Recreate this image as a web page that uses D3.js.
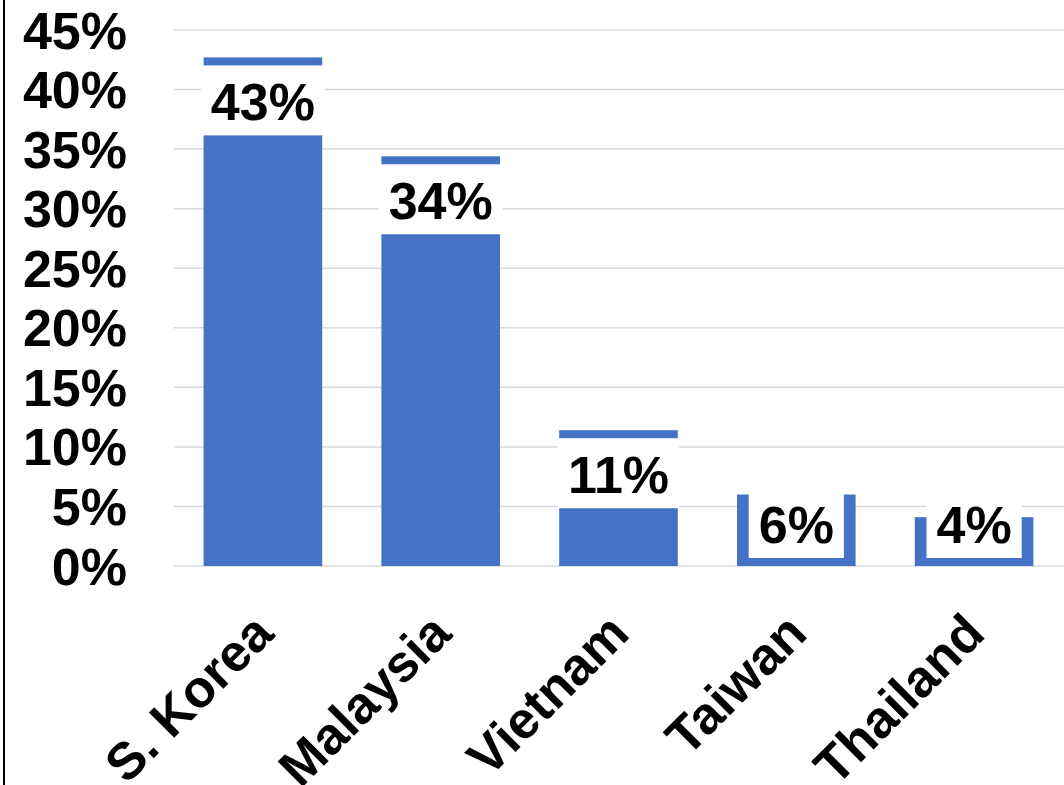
<!DOCTYPE html>
<html>
<head>
<meta charset="utf-8">
<script src="https://cdn.jsdelivr.net/npm/d3@7"></script>
<style>
  body { margin: 0; background: #fff; }
  text { font-family: "Liberation Sans", Arial, sans-serif; font-weight: bold; fill: #000; }
</style>
</head>
<body>
<div id="chart"></div>
<script>
// data
const categories = ["S. Korea", "Malaysia", "Vietnam", "Taiwan", "Thailand"];
const values = [42.7, 34.4, 11.4, 6.0, 4.1];
const labels = ["43%", "34%", "11%", "6%", "4%"];
const yTicks = [0, 5, 10, 15, 20, 25, 30, 35, 40, 45];

const width = 1064, height = 785;
const margin = { top: 30, right: 1, bottom: 219, left: 174 };

const svg = d3.select("#chart").append("svg")
  .attr("width", width)
  .attr("height", height);

const x = d3.scaleBand()
  .domain(categories)
  .range([margin.left, width - margin.right])
  .paddingInner(0.333)
  .paddingOuter(0.1665);

const y = d3.scaleLinear()
  .domain([0, 45])
  .range([height - margin.bottom, margin.top]);

// left border
svg.append("line")
  .attr("x1", 4).attr("x2", 4)
  .attr("y1", 0).attr("y2", height)
  .attr("stroke", "#000").attr("stroke-width", 2);

// gridlines
svg.selectAll(".grid")
  .data(yTicks)
  .join("line")
  .attr("class", "grid")
  .attr("x1", margin.left).attr("x2", width)
  .attr("y1", d => y(d)).attr("y2", d => y(d))
  .attr("stroke", "#d9d9d9").attr("stroke-width", 1.5);

// y tick labels
svg.selectAll(".ytick")
  .data(yTicks)
  .join("text")
  .attr("class", "ytick")
  .attr("x", 127)
  .attr("y", d => y(d) + 18.5)
  .attr("text-anchor", "end")
  .style("font-size", "52px")
  .text(d => d + "%");

// bars
svg.selectAll(".bar")
  .data(values)
  .join("rect")
  .attr("class", "bar")
  .attr("x", (d, i) => x(categories[i]))
  .attr("width", x.bandwidth())
  .attr("y", d => y(d))
  .attr("height", d => y(0) - y(d))
  .attr("fill", "#4472c4");

// data labels on white boxes
const lab = svg.selectAll(".lab")
  .data(values)
  .join("g")
  .attr("class", "lab");

lab.each(function(d, i) {
  const g = d3.select(this);
  const cx = x(categories[i]) + x.bandwidth() / 2;
  const boxH = 70;
  const top = Math.min(y(d) + 8, y(0) - 8 - boxH);
  const rect = g.append("rect").attr("fill", "#fff");
  const t = g.append("text")
    .attr("x", cx)
    .attr("y", top + 55)
    .attr("text-anchor", "middle")
    .style("font-size", "52px")
    .text(labels[i]);
  const w = t.node().getComputedTextLength() + 20;
  rect.attr("x", cx - w / 2).attr("y", top)
    .attr("width", w).attr("height", boxH);
});

// category labels, rotated
svg.selectAll(".xlab")
  .data(categories)
  .join("text")
  .attr("class", "xlab")
  .attr("text-anchor", "end")
  .attr("transform", d => `translate(${x(d) + x.bandwidth() / 2 + 13}, ${y(0) + 70}) rotate(-45)`)
  .style("font-size", "52px")
  .text(d => d);
</script>
</body>
</html>
